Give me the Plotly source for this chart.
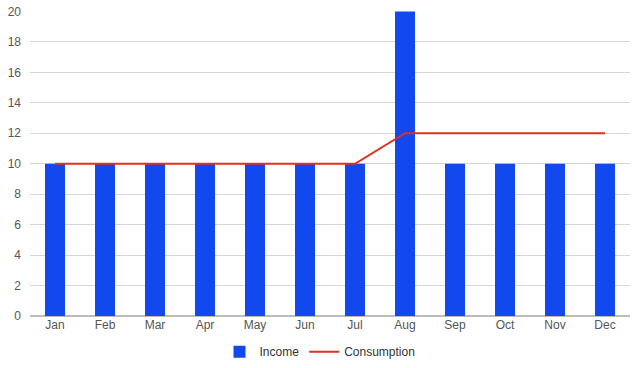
import plotly.graph_objects as go

months = ["Jan", "Feb", "Mar", "Apr", "May", "Jun", "Jul", "Aug", "Sep", "Oct", "Nov", "Dec"]
income = [10, 10, 10, 10, 10, 10, 10, 20, 10, 10, 10, 10]
consumption = [10, 10, 10, 10, 10, 10, 10, 12, 12, 12, 12, 12]

fig = go.Figure()
fig.add_trace(go.Bar(x=months, y=income, name="Income", marker_color="#1149EE",
                     marker_line_width=0))
fig.add_trace(go.Scatter(x=months, y=consumption, name="Consumption", mode="lines",
                         line=dict(color="#E0301E", width=2)))

fig.update_layout(
    width=640, height=368,
    margin=dict(l=30, r=10, t=11, b=52, autoexpand=False),
    paper_bgcolor="white", plot_bgcolor="white",
    font=dict(family="Liberation Sans, Arial, sans-serif", size=12, color="#444"),
    bargap=0.6,
    hovermode=False,
    showlegend=True,
    legend=dict(orientation="h", x=0.5, xanchor="center", xref="container",
                y=0.044, yanchor="middle", yref="container",
                font=dict(size=12, color="#333"), itemwidth=30, traceorder="normal",
                bgcolor="rgba(0,0,0,0)"),
    xaxis=dict(showgrid=False, showline=False, ticks="", automargin=False,
               tickfont=dict(color="#555")),
    yaxis=dict(range=[0, 20.03], tickvals=list(range(0, 21, 2)), showgrid=True,
               gridcolor="#d6d6d6", gridwidth=1,
               zeroline=True, zerolinecolor="#bbb", showline=False, ticks="",
               automargin=False, ticklabelstandoff=8, ticklabeloverflow="allow",
               tickfont=dict(color="#555")),
)

fig.write_html("out.html", config={"displayModeBar": False},
               post_script="document.body.style.margin='0';document.body.style.overflow='hidden';")
